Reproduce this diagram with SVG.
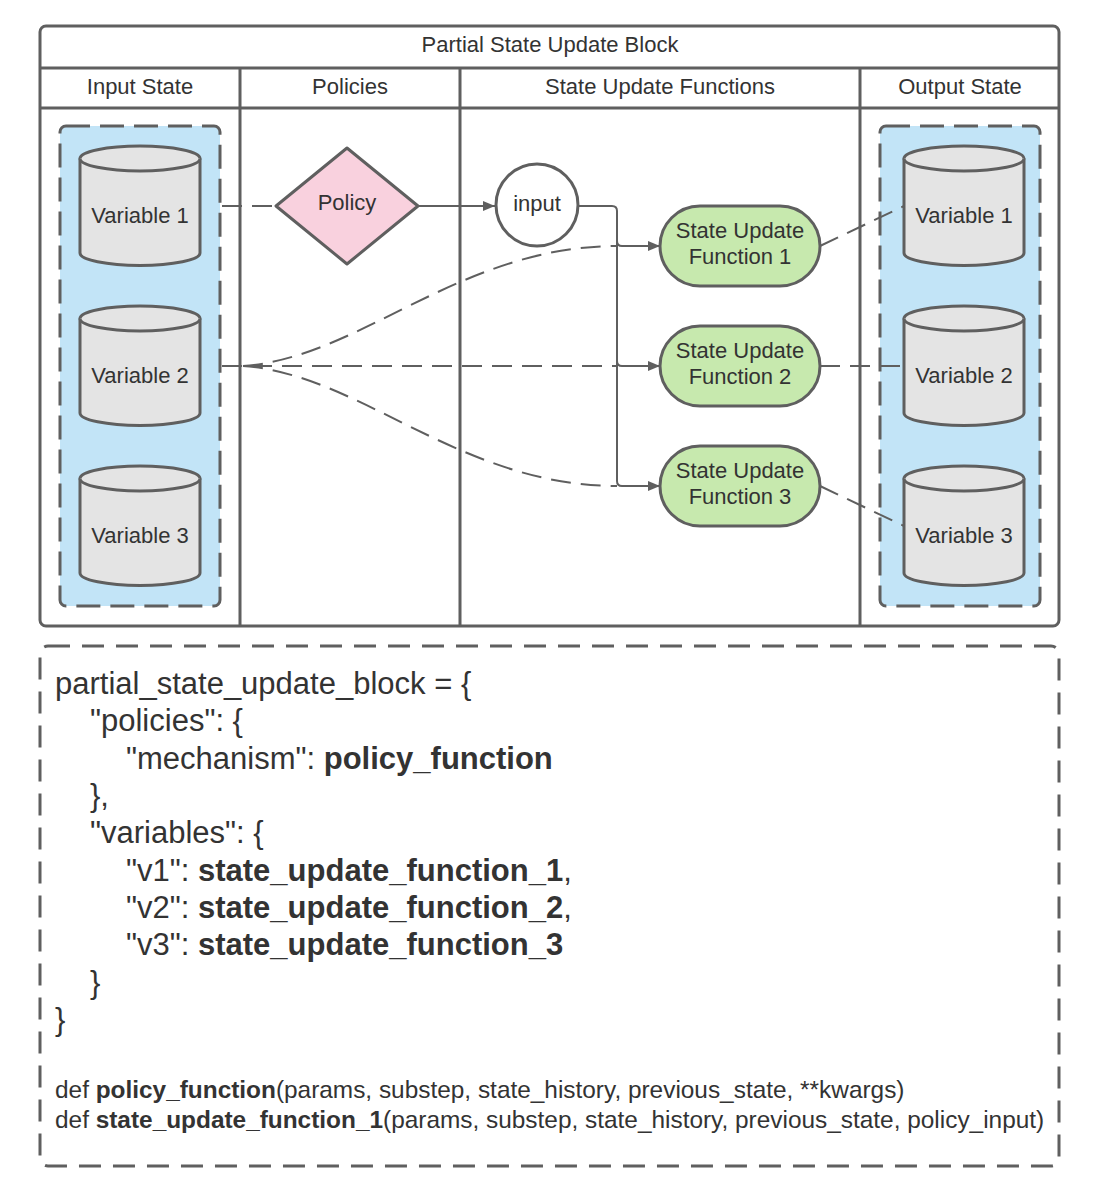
<svg xmlns="http://www.w3.org/2000/svg" width="1098" height="1181" viewBox="0 0 1098 1181">
<style>
  text { font-family: "Liberation Sans", Arial, sans-serif; fill: #333333; }
  .lbl { font-size: 22px; text-anchor: middle; }
  .code { font-size: 31px; }
  .sig { font-size: 24.4px; }
  .b { font-weight: bold; }
  .frame { fill: none; stroke: #5f5f5f; stroke-width: 3; }
  .cont { fill: #c2e4f7; stroke: #5f5f5f; stroke-width: 3; stroke-dasharray: 24 10; }
  .cyl { fill: #e4e4e4; stroke: #5f5f5f; stroke-width: 3; }
  .conn { fill: none; stroke: #5f5f5f; stroke-width: 2; }
  .dash { stroke-dasharray: 20 10; }
</style>
<defs>
  <marker id="arr" viewBox="0 0 12 10" refX="12" refY="5" markerWidth="12" markerHeight="10" markerUnits="userSpaceOnUse" orient="auto">
    <path d="M0,0 L12,5 L0,10 z" fill="#5f5f5f"/>
  </marker>
</defs>
<rect width="1098" height="1181" fill="#ffffff"/>

<g id="frame">
  <rect class="frame" x="40" y="26" width="1019" height="600" rx="6" fill="#ffffff"/>
  <line class="frame" x1="40" y1="68" x2="1059" y2="68"/>
  <line class="frame" x1="40" y1="108" x2="1059" y2="108"/>
  <line class="frame" x1="240" y1="68" x2="240" y2="626"/>
  <line class="frame" x1="460" y1="68" x2="460" y2="626"/>
  <line class="frame" x1="860" y1="68" x2="860" y2="626"/>
  <text class="lbl" x="550" y="52">Partial State Update Block</text>
  <text class="lbl" x="140" y="94">Input State</text>
  <text class="lbl" x="350" y="94">Policies</text>
  <text class="lbl" x="660" y="94">State Update Functions</text>
  <text class="lbl" x="960" y="94">Output State</text>
</g>

<g id="input-state">
  <rect class="cont" x="60" y="126" width="160" height="480" rx="6"/>
</g>
<g id="in-var1">
  <path class="cyl" d="M80,158.5 a60,12.5 0 0 1 120,0 v94.5 a60,12.5 0 0 1 -120,0 z"/>
  <path class="cyl" fill="none" d="M80,158.5 a60,12.5 0 0 0 120,0"/>
  <text class="lbl" x="140" y="223">Variable 1</text>
</g>
<g id="in-var2">
  <path class="cyl" d="M80,318.5 a60,12.5 0 0 1 120,0 v94.5 a60,12.5 0 0 1 -120,0 z"/>
  <path class="cyl" fill="none" d="M80,318.5 a60,12.5 0 0 0 120,0"/>
  <text class="lbl" x="140" y="383">Variable 2</text>
</g>
<g id="in-var3">
  <path class="cyl" d="M80,478.5 a60,12.5 0 0 1 120,0 v94.5 a60,12.5 0 0 1 -120,0 z"/>
  <path class="cyl" fill="none" d="M80,478.5 a60,12.5 0 0 0 120,0"/>
  <text class="lbl" x="140" y="543">Variable 3</text>
</g>

<g id="output-state">
  <rect class="cont" x="880" y="126" width="160" height="480" rx="6"/>
</g>
<g id="out-var1">
  <path class="cyl" d="M904,158.5 a60,12.5 0 0 1 120,0 v94.5 a60,12.5 0 0 1 -120,0 z"/>
  <path class="cyl" fill="none" d="M904,158.5 a60,12.5 0 0 0 120,0"/>
  <text class="lbl" x="964" y="223">Variable 1</text>
</g>
<g id="out-var2">
  <path class="cyl" d="M904,318.5 a60,12.5 0 0 1 120,0 v94.5 a60,12.5 0 0 1 -120,0 z"/>
  <path class="cyl" fill="none" d="M904,318.5 a60,12.5 0 0 0 120,0"/>
  <text class="lbl" x="964" y="383">Variable 2</text>
</g>
<g id="out-var3">
  <path class="cyl" d="M904,478.5 a60,12.5 0 0 1 120,0 v94.5 a60,12.5 0 0 1 -120,0 z"/>
  <path class="cyl" fill="none" d="M904,478.5 a60,12.5 0 0 0 120,0"/>
  <text class="lbl" x="964" y="543">Variable 3</text>
</g>

<g id="connectors">
  <path class="conn dash" d="M222,206 H276"/>
  <path class="conn" d="M419,206 H495" marker-end="url(#arr)"/>
  <path class="conn" d="M579,206 H612 Q617,206 617,211 V481 Q617,486 622,486 H660" marker-end="url(#arr)"/>
  <path class="conn" d="M617,241 Q617,246 622,246 H660" marker-end="url(#arr)"/>
  <path class="conn" d="M617,361 Q617,366 622,366 H660" marker-end="url(#arr)"/>
  <path class="conn dash" d="M222,366 H617"/>
  <path class="conn dash" d="M243,366 C360,358 460,246 617,246"/>
  <path class="conn dash" d="M243,366 C360,374 460,486 617,486"/>
  <path class="conn dash" d="M820,246 L904,206"/>
  <path class="conn dash" d="M820,366 H904"/>
  <path class="conn dash" d="M820,486 L904,526"/>
</g>

<g id="policy">
  <path d="M276,206 L347,148 L418,206 L347,264 Z" fill="#f9d1de" stroke="#5f5f5f" stroke-width="3" stroke-linejoin="round"/>
  <text class="lbl" x="347" y="210">Policy</text>
</g>
<g id="input">
  <circle cx="537" cy="205" r="41" fill="#ffffff" stroke="#5f5f5f" stroke-width="3"/>
  <text class="lbl" x="537" y="211">input</text>
</g>
<g id="suf1">
  <rect x="660" y="206" width="160" height="80" rx="40" fill="#c7e9ae" stroke="#5f5f5f" stroke-width="3"/>
  <text class="lbl" x="740" y="238">State Update</text>
  <text class="lbl" x="740" y="264">Function 1</text>
</g>
<g id="suf2">
  <rect x="660" y="326" width="160" height="80" rx="40" fill="#c7e9ae" stroke="#5f5f5f" stroke-width="3"/>
  <text class="lbl" x="740" y="358">State Update</text>
  <text class="lbl" x="740" y="384">Function 2</text>
</g>
<g id="suf3">
  <rect x="660" y="446" width="160" height="80" rx="40" fill="#c7e9ae" stroke="#5f5f5f" stroke-width="3"/>
  <text class="lbl" x="740" y="478">State Update</text>
  <text class="lbl" x="740" y="504">Function 3</text>
</g>

<g id="code">
  <rect x="40" y="646" width="1019" height="520" rx="8" fill="none" stroke="#5f5f5f" stroke-width="3" stroke-dasharray="22 12"/>
  <text class="code" x="55" y="694">partial_state_update_block = {</text>
  <text class="code" x="90" y="731">"policies": {</text>
  <text class="code" x="126" y="769">"mechanism": <tspan class="b">policy_function</tspan></text>
  <text class="code" x="90" y="806">},</text>
  <text class="code" x="90" y="843">"variables": {</text>
  <text class="code" x="126" y="881">"v1": <tspan class="b">state_update_function_1</tspan>,</text>
  <text class="code" x="126" y="918">"v2": <tspan class="b">state_update_function_2</tspan>,</text>
  <text class="code" x="126" y="955">"v3": <tspan class="b">state_update_function_3</tspan></text>
  <text class="code" x="90" y="993">}</text>
  <text class="code" x="55" y="1030">}</text>
  <text class="sig" x="55" y="1098">def <tspan class="b">policy_function</tspan>(params, substep, state_history, previous_state, **kwargs)</text>
  <text class="sig" x="55" y="1128">def <tspan class="b">state_update_function_1</tspan>(params, substep, state_history, previous_state, policy_input)</text>
</g>
</svg>
